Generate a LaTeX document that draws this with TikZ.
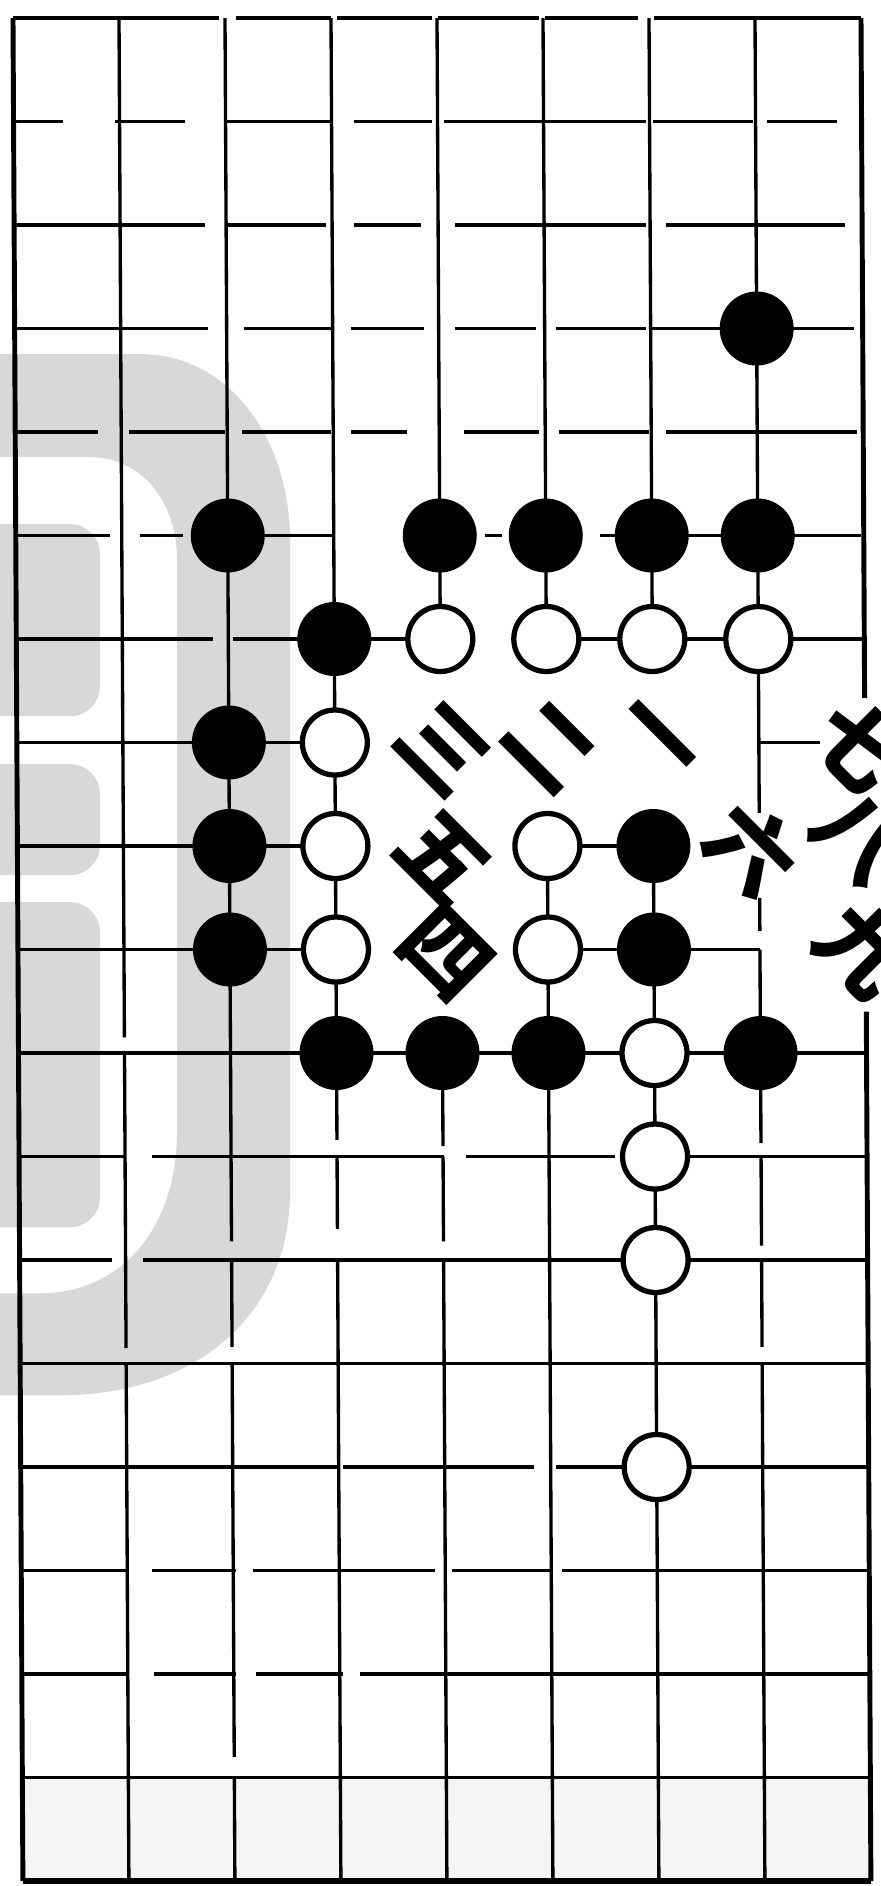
\documentclass[tikz,border=0pt]{standalone}
\usepackage{fontspec}
\newfontfamily\cjk{Noto Sans CJK SC}
\definecolor{wmark}{RGB}{216,216,216}
\tikzset{
  gridline/.style={line width=1.9pt},
  edgeline/.style={line width=2.8pt},
  bstone/.style={circle, fill=black, inner sep=0pt, minimum size=1.48cm},
  wstone/.style={circle, draw=black, fill=white, line width=3pt, inner sep=0pt, minimum size=1.3cm},
  num/.style={rotate=-45, inner sep=0pt, font=\cjk\bfseries\fontsize{50}{50}\selectfont},
}
\begin{document}
\begin{tikzpicture}[x={(2.12cm,0cm)}, y={(0.011cm,-2.07cm)}]
  \useasboundingbox (-0.26cm,0.36cm) rectangle (17.34cm,-37.36cm);
  \clip (-0.26cm,0.36cm) rectangle (17.34cm,-37.36cm);
  \begin{scope}[x=0.02cm, y=-0.02cm, shift={(-0.26cm,0.36cm)}]
    \fill[wmark, even odd rule]
      (-5,354) -- (140,354) .. controls (230,354) and (290,440) .. (290,540)
      -- (290,1190) .. controls (290,1320) and (190,1395) .. (60,1395) -- (-5,1395) -- cycle
      (-5,457) -- (90,457) .. controls (140,457) and (177,500) .. (177,560)
      -- (177,1130) .. controls (177,1230) and (120,1293) .. (40,1293) -- (-5,1293) -- cycle;
    \foreach \a/\b in {524/716, 764/875, 902/1227}
      \fill[wmark, rounded corners=17pt] (-40,\a) rectangle (100,\b);
  \end{scope}
  \fill[gray!8] (0,17) rectangle (8,18);

  \foreach \r/\a/\b in {1/0/0.47, 1/0.96/1.62, 1/2.01/3, 1/3.21/3.95, 1/4.06/5.97, 1/6.03/6.98, 1/7.11/7.77,
      2/0/1.8, 2/2.01/2.94, 2/3.21/3.84, 2/4.16/5.96, 2/6.15/7.84,
      3/0/1.82, 3/2.16/2.98, 3/3.17/3.86, 3/4.15/4.92, 3/5.11/5.96, 3/6.01/7.92,
      4/0/0.78, 4/1.07/1.98, 4/2.14/2.98, 4/3.17/3.7, 4/4.23/4.94, 4/5.13/5.98, 4/6.14/7.94,
      5/0/0.89, 5/1.17/1.58, 5/2/2.99, 5/4.43/4.59, 5/5.51/5.68, 5/6/7.97,
      6/0/1.86, 6/2.04/4, 6/5/8, 7/0/3, 7/7/7.58, 8/0/3, 8/5/6, 9/0/3, 9/5/7, 10/0/8,
      11/0/1.01, 11/1.25/4.01, 11/4.22/5.62, 11/6/8, 12/0/0.87, 12/1.16/8, 13/0/8,
      14/0/2.98, 14/3.04/4.84, 14/5.05/8,
      15/0/1.02, 15/1.23/2.03, 15/2.19/3.9, 15/4.06/5.02, 15/5.1/8,
      16/0/1.01, 16/1.25/2.02, 16/2.21/3.03, 16/3.19/8, 17/0/8}
    \draw[gridline] (\a,\r) -- (\b,\r);
  \foreach \c/\a/\b in {1/0/9.85, 1/10/12.85, 1/13/18,
      2/0/11.82, 2/12/12.84, 2/13/16.8, 2/17/18,
      3/0/10.84, 3/11/11.7, 3/12/18,
      4/0/6, 4/10/10.9, 4/11/11.82, 4/12/18,
      5/0/6, 5/8/18, 6/0/6, 6/8/18,
      7/0/7.68, 7/8.5/8.82, 7/9/10.87, 7/11/11.86, 7/12/12.84, 7/13/18}
    \draw[gridline] (\c,\a) -- (\c,\b);
  \foreach \a/\b in {0/1.94, 2.1/3, 3.06/3.95, 4.01/4.96, 5.02/5.9, 6.05/8}
    \draw[edgeline] (\a,0) -- (\b,0);
  \draw[edgeline] (0,0) -- (0,18);
  \draw[edgeline] (8,0) -- (8,6.57);
  \draw[edgeline] (8,9.6) -- (8,18);
  \draw[line width=3.4pt] (0,18) -- (8,18);

  \foreach \c/\r in {7/3, 2/5, 4/5, 5/5, 6/5, 7/5, 3/6, 2/7, 2/8, 6/8, 2/9, 6/9, 3/10, 4/10, 5/10, 7/10}
    \node[bstone] (b\c-\r) at (\c,\r) {};
  \foreach \c/\r in {4/6, 5/6, 6/6, 7/6, 3/7, 3/8, 5/8, 3/9, 5/9, 6/10, 6/11, 6/12, 6/14}
    \node[wstone] (w\c-\r) at (\c,\r) {};

  \node[num] (n1) at (6.0,7.0) {一};
  \node[num] (n2) at (5.02,7.04) {二};
  \node[num] (n3) at (4.02,7.07) {三};
  \node[num] (n4) at (4.03,9.04) {四};
  \node[num] (n5) at (4.01,8.12) {五};
  \node[num] (n6) at (6.93,8.03) {六};
  \node[num] (n7) at (7.95,7.03) {七};
  \node[num] (n8) at (7.93,7.92) {八};
  \node[num] (n9) at (7.97,9.0) {九};
\end{tikzpicture}
\end{document}
